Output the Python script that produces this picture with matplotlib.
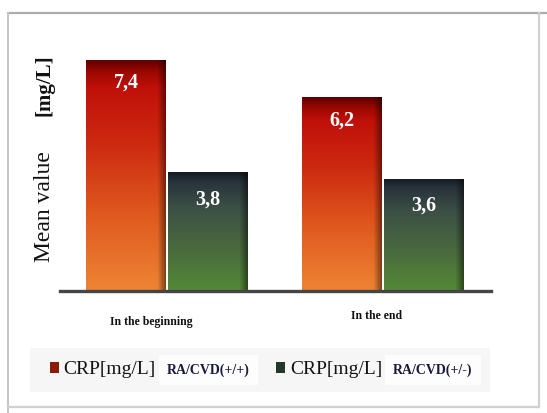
import matplotlib.pyplot as plt
import numpy as np
from matplotlib.colors import LinearSegmentedColormap
from matplotlib.patches import Rectangle
from matplotlib.lines import Line2D
from matplotlib.transforms import IdentityTransform

# data
categories = ["In the beginning", "In the end"]
series_names = ["CRP[mg/L]", "CRP[mg/L]"]
series_tags = ["RA/CVD(+/+)", "RA/CVD(+/-)"]
vals_pos = [7.4, 6.2]   # RA/CVD(+/+)
vals_neg = [3.8, 3.6]   # RA/CVD(+/-)

serif = ["Liberation Serif", "DejaVu Serif"]
W, H = 547, 413
fig = plt.figure(figsize=(W / 100, H / 100), dpi=100)
ax = fig.add_axes([60 / W, 1 - 291 / H, 431 / W, 250 / H])

x = np.arange(len(categories))
bw = 0.37
off = 0.19

red_cmap = LinearSegmentedColormap.from_list("red", [
    (0.0, "#5e0000"), (0.05, "#9a0800"), (0.12, "#c0100a"),
    (0.35, "#cc2810"), (0.65, "#de561e"), (1.0, "#ee8434")])
green_cmap = LinearSegmentedColormap.from_list("green", [
    (0.0, "#161b22"), (0.08, "#28333b"), (0.3, "#3c5046"),
    (0.65, "#4a6a3e"), (1.0, "#548a36")])


def fill_gradient(bars, cmap):
    t = np.linspace(0, 1, 200)[:, None]
    rgb = cmap(np.repeat(t, 60, axis=1))[:, :, :3]
    u = np.linspace(0, 1, 60)
    shade = np.ones(60)
    shade[u > 0.9] = 1 - (u[u > 0.9] - 0.9) / 0.1 * 0.45
    rgb = rgb * shade[None, :, None]
    for b in bars:
        x0, y0 = b.get_x(), b.get_y()
        im = ax.imshow(rgb, extent=[x0, x0 + b.get_width(), y0, y0 + b.get_height()],
                       origin="upper", aspect="auto", zorder=2, interpolation="bilinear")
        im.set_clip_path(b)


b1 = ax.bar(x - off, vals_pos, bw, color="#8a1c0c", zorder=1)
b2 = ax.bar(x + off, vals_neg, bw, color="#2a3f2a", zorder=1)
fill_gradient(b1, red_cmap)
fill_gradient(b2, green_cmap)

for bars, vals, pad in [(b1, vals_pos, -24), (b2, vals_neg, -27)]:
    labs = [f"{v:.1f}".replace(".", ",") for v in vals]
    ax.bar_label(bars, labels=labs, padding=pad, color="white", fontsize=14.5,
                 fontweight="bold", family=serif, zorder=3)

ax.set_xlim(-0.495, 1.5)
ax.set_ylim(0, 8)
ax.autoscale(False)
for s in ["top", "right", "left"]:
    ax.spines[s].set_visible(False)
ax.spines["bottom"].set_color("#454545")
ax.spines["bottom"].set_linewidth(2.4)
ax.spines["bottom"].set_zorder(4)
ax.set_yticks([])
ax.set_xticks([])

# category labels
lab_dx = [-0.074, -0.032]
lab_dy = [-31, -25]
for i, c in enumerate(categories):
    ax.annotate(c, (x[i] + lab_dx[i], 0), xytext=(0, lab_dy[i] * 0.72),
                textcoords="offset points", ha="center", va="center",
                fontsize=8.5, fontweight="bold", family=serif, color="#111111")

fig.text(45 / W, 1 - 207 / H, "Mean value", rotation=90, ha="center", va="center",
         fontsize=17, family=serif, color="#111111")
fig.text(44 / W, 1 - 85 / H, "[mg/L]", rotation=90, ha="center", va="center",
         fontsize=15, fontweight="bold", family=serif, color="#111111")

# outer frame
fig.add_artist(Line2D([8 / W, 1], [1 - 13 / H] * 2, transform=fig.transFigure,
                      color="#b0aaaa", lw=1.6))
fig.add_artist(Line2D([8 / W] * 2, [1 - 13 / H, 0], transform=fig.transFigure,
                      color="#c4c4c4", lw=1.4))
fig.add_artist(Line2D([539 / W] * 2, [1 - 13 / H, 1 - 407 / H], transform=fig.transFigure,
                      color="#d0d0d0", lw=1.6))
fig.add_artist(Line2D([8 / W, 539 / W], [1 - 407 / H] * 2, transform=fig.transFigure,
                      color="#d0d0d0", lw=1.6))

# legend
fig.add_artist(Rectangle((30 / W, 1 - 392 / H), 460 / W, 44 / H, transform=fig.transFigure,
                         facecolor="#f6f6f6", edgecolor="none", zorder=0))
handles = [Rectangle((0, 0), 1, 1, facecolor="#8a1c0c"),
           Rectangle((0, 0), 1, 1, facecolor="#22382a")]
leg = fig.legend(handles, series_names, loc="center left", ncol=2,
                 bbox_to_anchor=(50 / W, 1 - 370 / H), frameon=False,
                 prop={"family": serif, "size": 14}, handlelength=0.45, handleheight=0.45,
                 handletextpad=0.25, columnspacing=6.2, borderpad=0, borderaxespad=0)
for t in leg.get_texts():
    t.set_color("#111111")

fig.canvas.draw()
r = fig.canvas.get_renderer()
for t, tag in zip(leg.get_texts(), series_tags):
    bb = t.get_window_extent(r)
    fig.text(bb.x1 + 11, (bb.y0 + bb.y1) / 2, tag, transform=IdentityTransform(),
             ha="left", va="center", fontsize=10, fontweight="bold", family=serif,
             color="#1a1a3a",
             bbox=dict(facecolor="#fdfdfd", edgecolor="none", pad=6))

fig.savefig("out.png", dpi=100)
